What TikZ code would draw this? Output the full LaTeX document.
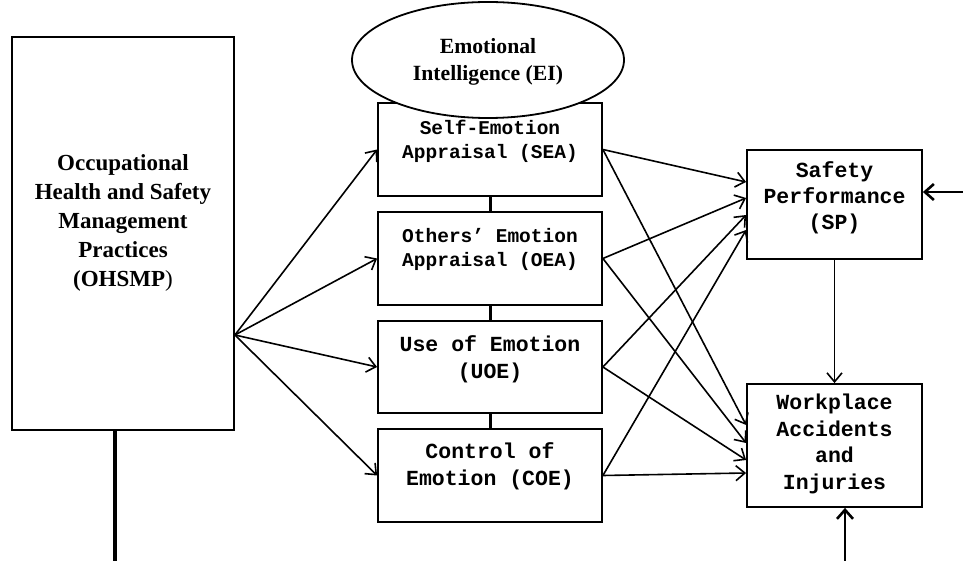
\documentclass[tikz,border=0pt]{standalone}
\usepackage{fontspec}
\setmainfont{Liberation Serif}
\setmonofont{Liberation Mono}
\usetikzlibrary{arrows.meta,shapes.geometric}
\begin{document}
\begin{tikzpicture}[x=1pt,y=-1pt,
  box/.style={draw,line width=1.8pt,rectangle,inner sep=0pt},
  ttsmall/.style={font=\fontsize{19.5}{24}\selectfont\ttfamily\bfseries,align=center},
  ttbig/.style={font=\fontsize{21.5}{27}\selectfont\ttfamily\bfseries,align=center},
  arr/.style={line width=1.6pt,-{Straight Barb[length=9pt,width=15pt]}},
  thickarr/.style={line width=2.6pt,-{Straight Barb[length=9pt,width=16pt]}},
  link/.style={line width=3pt}]
\useasboundingbox (0,0) rectangle (963,561);

% OHSMP
\node[box,minimum width=222pt,minimum height=393pt] (oh) at (123,233.5) {};
\node[font=\fontsize{23}{29}\selectfont\bfseries,align=center] (ohtxt) at (123,223)
  {Occupational\\Health and Safety\\Management\\Practices\\(OHSMP\textmd{)}};

% EI dimension boxes
\node[box,minimum width=224pt,minimum height=93pt] (sea) at (490,149.5) {};
\node[box,minimum width=224pt,minimum height=93pt] (oea) at (490,258.5) {};
\node[box,minimum width=224pt,minimum height=92pt] (uoe) at (490,367) {};
\node[box,minimum width=224pt,minimum height=93pt] (coe) at (490,475.5) {};
\node[ttsmall] at (490,141) {Self-Emotion\\Appraisal (SEA)};
\node[ttsmall] at (490,249) {Others’ Emotion\\Appraisal (OEA)};
\node[ttbig] at (490,359) {Use of Emotion\\(UOE)};
\node[ttbig] at (490,466.5) {Control of\\Emotion (COE)};

% Ellipse
\node[draw,fill=white,ellipse,line width=1.8pt,minimum width=272pt,minimum height=116pt,inner sep=0pt] (ei) at (488,60) {};
\node[font=\fontsize{21.7}{27}\selectfont\bfseries,align=center] at (488,61.5) {Emotional\\Intelligence (EI)};

% Outcome boxes
\node[box,minimum width=175pt,minimum height=109pt] (sp) at (834.5,204.5) {};
\node[box,minimum width=175pt,minimum height=123pt] (wai) at (834.5,445.5) {};
\node[align=center,font=\fontsize{21.5}{26}\selectfont\ttfamily\bfseries] at (834.5,198) {Safety\\Performance\\(SP)};
\node[align=center,font=\fontsize{21.5}{26.5}\selectfont\ttfamily\bfseries] at (834.5,444) {Workplace\\Accidents\\and\\Injuries};

% links between EI boxes
\draw[link] (sea.south) -- (oea.north);
\draw[link] (oea.south) -- (uoe.north);
\draw[link] (uoe.south) -- (coe.north);

% fan from OHSMP
\coordinate (fan) at ([yshift=-101.5pt]oh.east);
\draw[arr] (fan) -- (sea.west);
\draw[arr] (fan) -- (oea.west);
\draw[arr] (fan) -- (uoe.west);
\draw[arr] (fan) -- (coe.west);

% to SP
\draw[arr] (sea.east) -- ([yshift=22.5pt]sp.west);
\draw[arr] (oea.east) -- ([yshift=6.5pt]sp.west);
\draw[arr] (uoe.east) -- ([yshift=-10.5pt]sp.west);
\draw[arr] (coe.east) -- ([yshift=-25.5pt]sp.west);
% to WAI
\draw[arr] (sea.east) -- ([yshift=20.5pt]wai.west);
\draw[arr] (oea.east) -- ([yshift=2.5pt]wai.west);
\draw[arr] (uoe.east) -- ([yshift=-14.5pt]wai.west);
\draw[arr] (coe.east) -- ([yshift=-27.5pt]wai.west);

\draw[arr] (sp.south) -- (wai.north);

% external arrows
\coordinate (rightin) at (963,192);
\coordinate (bottomin) at (845,561);
\coordinate (ohout) at (115,561);
\draw[thickarr] (rightin) -- ([yshift=12.5pt]sp.east);
\draw[thickarr] (bottomin) -- ([xshift=10.5pt]wai.south);
\draw[line width=3.5pt] ([xshift=-8pt]oh.south) -- (ohout);
\end{tikzpicture}
\end{document}
